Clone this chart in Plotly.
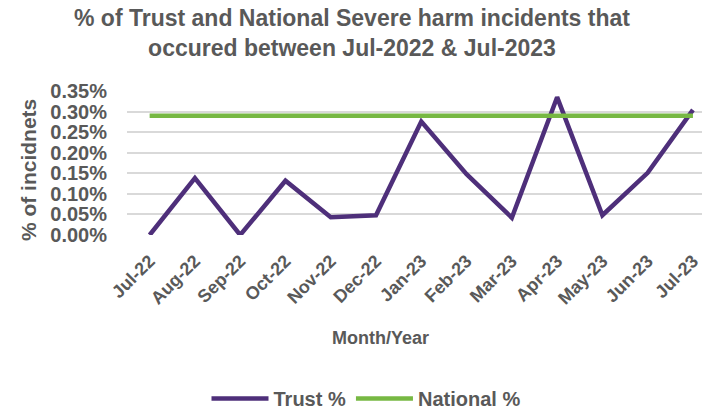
import plotly.graph_objects as go

months = ["Jul-22", "Aug-22", "Sep-22", "Oct-22", "Nov-22", "Dec-22", "Jan-23",
          "Feb-23", "Mar-23", "Apr-23", "May-23", "Jun-23", "Jul-23"]
trust_pct = [0.0000, 0.00138, 0.0000, 0.00132, 0.00043, 0.00048, 0.00276,
             0.00148, 0.00042, 0.00335, 0.00048, 0.00151, 0.00304]
national_pct = [0.0029] * 13

GREY = "#595959"
FONT = "Liberation Sans, Arial, sans-serif"

# pixel geometry helpers (plot area: left 127, width 575, top 91, bottom 236.7)
L, W, TOP, BOT = 127, 575, 91, 236.7
H = BOT - TOP


def px(x):
    return (x - L) / W


def py(y):
    return (BOT - y) / H


fig = go.Figure()
fig.add_trace(go.Scatter(x=months, y=trust_pct, name="Trust %", mode="lines",
                         line=dict(color="#4E2F7A", width=4.5)))
fig.add_trace(go.Scatter(x=months, y=national_pct, name="National %", mode="lines",
                         line=dict(color="#77B843", width=4.5)))

fig.add_annotation(text="<b>% of Trust and National Severe harm incidents that<br>occured between Jul-2022 & Jul-2023</b>",
                   xref="paper", yref="paper", x=px(352), y=py(32), xanchor="center", yanchor="middle",
                   showarrow=False, align="center",
                   font=dict(size=23, color=GREY, family=FONT))
fig.add_annotation(text="<b>Month/Year</b>", xref="paper", yref="paper",
                   x=px(380), y=py(341), xanchor="center", yanchor="middle", showarrow=False,
                   font=dict(size=18, color=GREY, family=FONT))
fig.add_annotation(text="<b>% of incidnets</b>", xref="paper", yref="paper", textangle=-90,
                   x=px(28), y=py(171), xanchor="center", yanchor="middle", showarrow=False,
                   font=dict(size=21, color=GREY, family=FONT))

fig.update_layout(
    width=702, height=418,
    margin=dict(l=L, r=0, t=TOP, b=418 - BOT),
    paper_bgcolor="white", plot_bgcolor="white",
    font=dict(family=FONT, color=GREY),
    xaxis=dict(type="category", range=[-0.5, 12.2], tickangle=-45,
               tickfont=dict(size=18, color=GREY, family=FONT, weight="bold"),
               showgrid=False, showline=False, ticks="", ticklabelstandoff=11),
    yaxis=dict(range=[0, 0.0035], dtick=0.0005, tickformat=".2%",
               tickfont=dict(size=20, color=GREY, family=FONT, weight="bold"),
               showgrid=True, gridcolor="#D9D9D9", gridwidth=2, zeroline=False,
               ticks="", showline=False, ticklabelstandoff=19),
    legend=dict(orientation="h", x=px(366), xanchor="center", y=py(403), yanchor="middle",
                font=dict(size=20, color=GREY, family=FONT, weight="bold"),
                itemwidth=57, traceorder="normal"),
)

fig.write_html("out.html")
